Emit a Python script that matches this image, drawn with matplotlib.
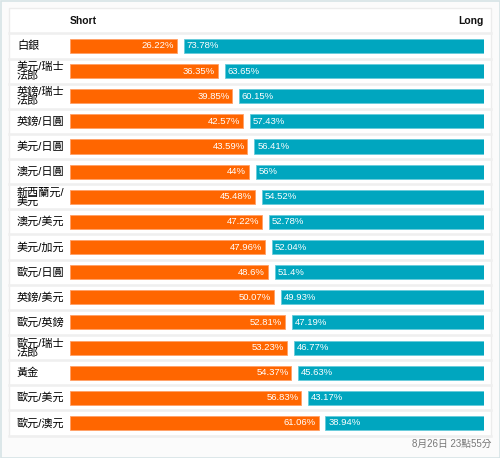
import matplotlib
matplotlib.use("Agg")
import matplotlib.pyplot as plt
from matplotlib.patches import Rectangle

plt.rcParams['font.family'] = ['Liberation Sans', 'Noto Sans CJK TC', 'DejaVu Sans']

labels = ['白銀', '美元/瑞士\n法郎', '英鎊/瑞士\n法郎', '英鎊/日圓', '美元/日圓', '澳元/日圓',
          '新西蘭元/\n美元', '澳元/美元', '美元/加元', '歐元/日圓', '英鎊/美元', '歐元/英鎊',
          '歐元/瑞士\n法郎', '黃金', '歐元/美元', '歐元/澳元']
short = [26.22, 36.35, 39.85, 42.57, 43.59, 44, 45.48, 47.22, 47.96, 48.6, 50.07, 52.81,
         53.23, 54.37, 56.83, 61.06]
long_ = [73.78, 63.65, 60.15, 57.43, 56.41, 56, 54.52, 52.78, 52.04, 51.4, 49.93, 47.19,
         46.77, 45.63, 43.17, 38.94]
short_txt = ['26.22%', '36.35%', '39.85%', '42.57%', '43.59%', '44%', '45.48%', '47.22%',
             '47.96%', '48.6%', '50.07%', '52.81%', '53.23%', '54.37%', '56.83%', '61.06%']
long_txt = ['73.78%', '63.65%', '60.15%', '57.43%', '56.41%', '56%', '54.52%', '52.78%',
            '52.04%', '51.4%', '49.93%', '47.19%', '46.77%', '45.63%', '43.17%', '38.94%']
footer = '8月26日 23點55分'

W, H = 500, 458
fig = plt.figure(figsize=(W / 100, H / 100), dpi=100)
fig.patch.set_facecolor('#fbfbfb')
# outer frame
fig.patches.append(Rectangle((0.5 / W, 0.5 / H), 1 - 1 / W, 1 - 1 / H, transform=fig.transFigure,
                             fill=False, edgecolor='#d6e3e6', lw=1.2, zorder=-10))
# white panel
px0, px1, py0, py1 = 9, 491, 8, 436
fig.patches.append(Rectangle((px0 / W, 1 - py1 / H), (px1 - px0) / W, (py1 - py0) / H,
                             transform=fig.transFigure, facecolor='white', edgecolor='#ececec',
                             lw=1, zorder=-10))

ax0, ax1 = 70, 484
ax = fig.add_axes([ax0 / W, 1 - py1 / H, (ax1 - ax0) / W, (py1 - py0) / H])
ax.set_facecolor('none')
gap = 1.7
ax.set_xlim(0, 100 + gap)
step = 25.13
ax.set_ylim((py1 - 46) / step, (py0 - 46) / step)
ax.axis('off')

y = list(range(len(labels)))
ax.barh(y, short, height=0.56, color='#ff6600', edgecolor='#ffa066', lw=0.6)
ax.barh(y, long_, left=[s + gap for s in short], height=0.56, color='#00a6bf',
        edgecolor='#66cbdb', lw=0.6)

lx0 = (px0 - ax0) / (ax1 - ax0)
lx1 = (px1 - ax0) / (ax1 - ax0)
tr = ax.get_yaxis_transform()
for i in range(-1, len(labels)):
    ax.plot([lx0, lx1], [i + 0.5, i + 0.5], transform=tr, color='#efefef', lw=1.8,
            clip_on=False, zorder=0)

lab_x = (17 - ax0) / (ax1 - ax0)
for i, lab in enumerate(labels):
    ax.text(lab_x, i, lab, transform=tr, ha='left', va='center', fontsize=8,
            fontweight='medium', color='#000000', linespacing=0.82)
    ax.text(short[i] - 0.7, i, short_txt[i], ha='right', va='center', fontsize=6.8,
            color='white')
    ax.text(short[i] + gap + 0.7, i, long_txt[i], ha='left', va='center', fontsize=6.8,
            color='white')

ax.text(0, -1, 'Short', transform=tr, ha='left', va='center', fontsize=7.5,
        fontweight='bold', color='#111111')
ax.text(1, -1, 'Long', transform=tr, ha='right', va='center', fontsize=7.5,
        fontweight='bold', color='#111111')

fig.text(491 / W, 1 - 444 / H, footer, ha='right', va='center', fontsize=7, color='#777777')

fig.savefig('out.png', dpi=100, facecolor=fig.get_facecolor())
